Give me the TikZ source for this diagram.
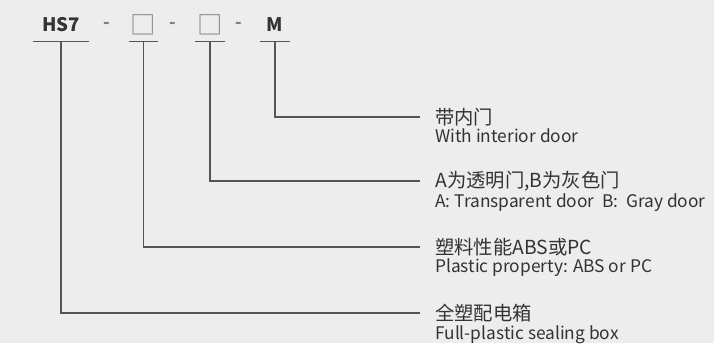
\documentclass[tikz,border=0pt]{standalone}
\usepackage{fontspec}
\setmainfont{Noto Sans CJK SC}
\usetikzlibrary{positioning}
\definecolor{paper}{HTML}{EDEDED}
\definecolor{ink}{HTML}{333333}
\definecolor{wire}{HTML}{555555}

\begin{document}
\begin{tikzpicture}[
    x=0.75pt, y=-0.75pt,
    code/.style={font=\fontsize{14}{17}\selectfont\bfseries, text=ink, inner sep=0pt, minimum width=22.5pt, minimum height=24pt},
    blank/.style={code, font=\fontsize{19}{20}\selectfont, text=gray},
    sep/.style={font=\fontsize{13}{16}\selectfont\bfseries, text=gray, inner sep=0pt},
    zh/.style={font=\fontsize{14.5}{17}\selectfont, text=ink, inner sep=0pt, anchor=west},
    en/.style={font=\fontsize{13}{15}\selectfont, text=ink, inner sep=0pt},
    uline/.style={wire, line width=0.9pt},
    lead/.style={wire, line width=0.9pt, shorten >=11.25pt}
]
    \fill[paper] (0,0) rectangle (714,343);

    % --- MODEL CODE ---
    \node[code, minimum width=42pt] (hs) at (61,25) {HS7};
    \node[blank, minimum width=21.75pt] (b1) at (143.5,25) {□};
    \node[blank] (b2) at (210,25) {□};
    \node[code] (m) at (275,25) {M};
    \foreach \x [count=\i] in {107,173,239} {
        \node[sep] (d-\i) at (\x,25) {-};
    }
    \foreach \n in {hs,b1,b2,m} {
        \draw[uline] (\n.south west) -- (\n.south east);
    }

    % --- MEANINGS ---
    \node[zh] (zm) at (435,117) {带内门};
    \node[en, below right=2pt and 0pt of zm.south west] (em) {With interior door};

    \node[zh] (zb2) at (435,181) {A为透明门,B为灰色门};
    \node[en, below right=2pt and 0pt of zb2.south west] (eb2) {A: Transparent door\ \ B:\ \ Gray door};

    \node[zh] (zb1) at (435,247) {塑料性能ABS或PC};
    \node[en, below right=2pt and 0pt of zb1.south west] (eb1) {Plastic property: ABS or PC};

    \node[zh] (zhs) at (435,313) {全塑配电箱};
    \node[en, below right=2pt and 0pt of zhs.south west] (ehs) {Full-plastic sealing box};

    % --- LEADERS ---
    \draw[lead] (m.south) |- (zm.west);
    \draw[lead] (b2.south) |- (zb2.west);
    \draw[lead] (b1.south) |- (zb1.west);
    \draw[lead] (hs.south) |- (zhs.west);

\end{tikzpicture}
\end{document}
